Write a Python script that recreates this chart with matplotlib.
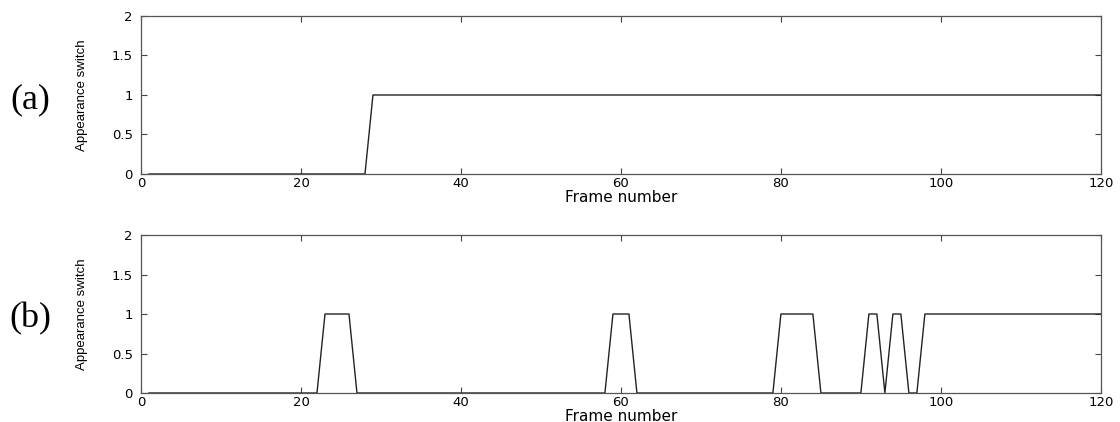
import matplotlib.pyplot as plt
import numpy as np

# номера кадров и значения переключателя внешнего вида
frames = np.arange(1, 121)
switch_a = [0] * 28 + [1] * 92
switch_b = ([0] * 22 + [1] * 4 + [0] * 32 + [1] * 3 + [0] * 18 + [1] * 5 +
            [0] * 6 + [1] * 2 + [0] * 1 + [1] * 2 + [0] * 2 + [1] * 23)
panel_labels = ['(a)', '(b)']
x_ticks = [0, 20, 40, 60, 80, 100, 120]
y_ticks = [0, 0.5, 1, 1.5, 2]
y_ticklabels = ['0', '0.5', '1', '1.5', '2']

fig = plt.figure(figsize=(11.2, 4.22), dpi=100)
ax_a = fig.add_axes([0.1259, 0.5877, 0.857, 0.3744])
ax_b = fig.add_axes([0.1259, 0.0687, 0.857, 0.3744])

for ax, vals, lab in zip([ax_a, ax_b], [switch_a, switch_b], panel_labels):
    ax.plot(frames, vals, color='#222222', lw=1.0)
    ax.set_xlim(0, 120)
    ax.set_ylim(0, 2)
    ax.set_xticks(x_ticks)
    ax.set_yticks(y_ticks)
    ax.set_yticklabels(y_ticklabels)
    ax.tick_params(direction='in', length=4, width=0.8, color='#444444',
                   top=True, right=True, labelsize=9.5, pad=2)
    ax.tick_params(axis='y', pad=6)
    for t in ax.get_xticklabels() + ax.get_yticklabels():
        t.set_fontfamily('DejaVu Sans')
    for s in ax.spines.values():
        s.set_color('#555555')
        s.set_linewidth(0.9)
    ax.set_xlabel('Frame number', family='DejaVu Sans', fontsize=11, labelpad=0)
    ax.set_ylabel('Appearance switch', family=['Liberation Sans Narrow', 'Liberation Sans'],
                  fontsize=9.5, labelpad=17)
    ax.text(-0.115, 0.47, lab, transform=ax.transAxes, family='Liberation Serif',
            fontsize=26, ha='center', va='center')

fig.savefig('out.png', dpi=100)
